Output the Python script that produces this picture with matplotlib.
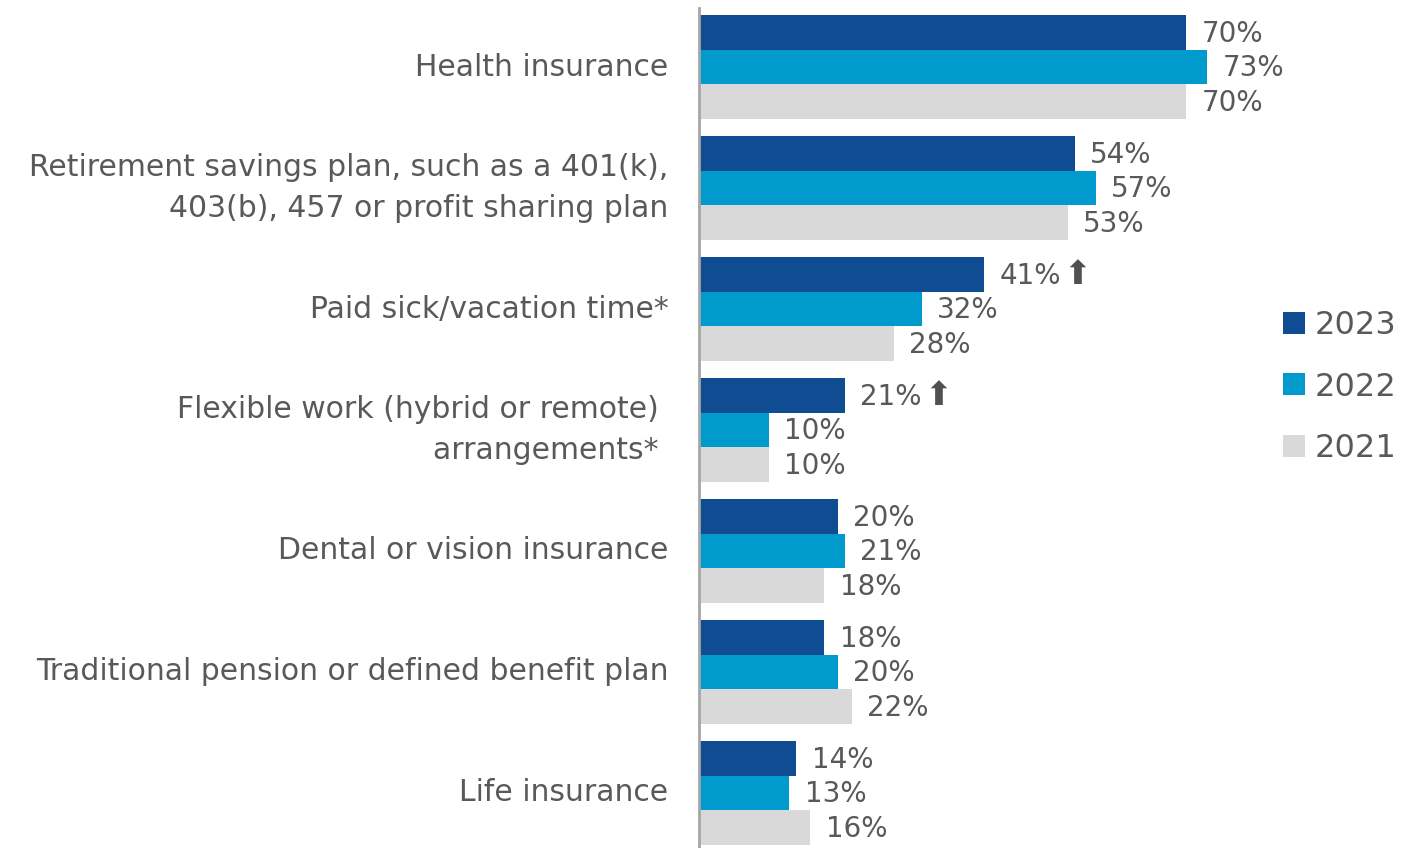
import numpy as np
import matplotlib.pyplot as plt
from matplotlib.patches import Patch

categories = [
    "Health insurance",
    "Retirement savings plan, such as a 401(k),\n403(b), 457 or profit sharing plan",
    "Paid sick/vacation time*",
    "Flexible work (hybrid or remote) \narrangements* ",
    "Dental or vision insurance",
    "Traditional pension or defined benefit plan",
    "Life insurance",
]
years = ["2023", "2022", "2021"]
v2023 = [70, 54, 41, 21, 20, 18, 14]
v2022 = [73, 57, 32, 10, 21, 20, 13]
v2021 = [70, 53, 28, 10, 18, 22, 16]
# categories that rose significantly in 2023
rising = [2, 3]

colors = ["#0F4C92", "#009BCC", "#D9D9D9"]
text_color = "#595959"

plt.rcParams["font.family"] = "DejaVu Sans"

fig = plt.figure(figsize=(14.03, 8.48), dpi=100)
ax = fig.add_axes([699 / 1403, 0, 1 - 699 / 1403, 840 / 848])

y = np.arange(len(categories))
h = 0.287
for i, (vals, col) in enumerate(zip([v2023, v2022, v2021], colors)):
    pos = y + (i - 1) * h
    ax.barh(pos, vals, height=h, color=col, label=years[i])
    for p, v in zip(pos, vals):
        ax.annotate(f"{v}%", xy=(v, p), xytext=(11, -1), textcoords="offset points",
                    ha="left", va="center", fontsize=20, color=text_color)

for k in rising:
    ax.annotate("\u2b06", xy=(v2023[k], y[k] - h), xytext=(57, 0),
                textcoords="offset points", ha="left", va="center",
                fontsize=24, color="#505050")

ax.set_xlim(0, 101.15)
ax.set_ylim(6.455, -0.488)
ax.set_yticks(y)
ax.set_yticklabels(categories, fontsize=21.5, color=text_color, ha="right",
                   va="center", linespacing=1.55)
ax.tick_params(axis="y", length=0, pad=22)
ax.set_xticks([])
for s in ["top", "right", "bottom"]:
    ax.spines[s].set_visible(False)
ax.spines["left"].set_color("#A6A6A6")
ax.spines["left"].set_linewidth(2)

handles = [Patch(facecolor=c, edgecolor="none") for c in colors]
fig.legend(handles, years, loc="center left", bbox_to_anchor=(1283 / 1403, 1 - 387 / 848),
           frameon=False, fontsize=23, labelcolor=text_color, labelspacing=0.95,
           handlelength=0.69, handleheight=0.69, handletextpad=0.31,
           borderpad=0, borderaxespad=0)

fig.savefig("out.png", dpi=100)
